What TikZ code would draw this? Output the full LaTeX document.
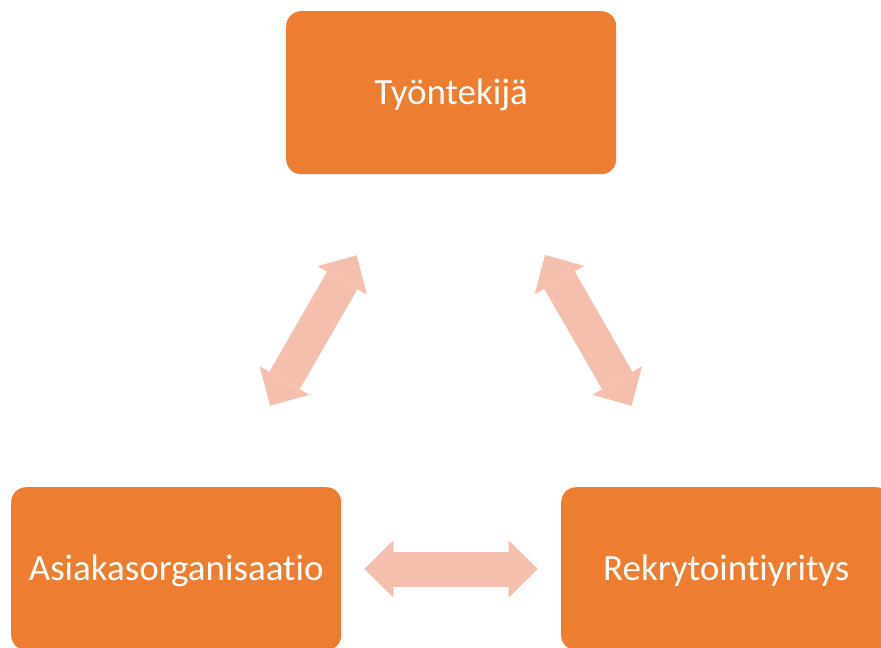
\documentclass[tikz,border=0pt]{standalone}
\usepackage{fontspec}
\setmainfont{Carlito}[Ligatures={NoCommon}]
\usetikzlibrary{arrows.meta}
\definecolor{boxorange}{HTML}{ED7D31}
\definecolor{arrowpink}{HTML}{F4BFAC}
\tikzset{
  box/.style={fill=boxorange, draw=none, rounded corners=15pt, minimum width=330pt,
    minimum height=163pt, inner sep=0pt, text=white, font=\fontsize{37}{40}\selectfont,
    text height=26pt, text depth=2pt, anchor=north west},
  dblarrow/.style={draw=arrowpink, line width=35pt,
    {Triangle[length=29pt,width=57pt,line width=0pt]}-{Triangle[length=29pt,width=57pt,line width=0pt]}}
}
\begin{document}
\begin{tikzpicture}[x=1pt,y=-1pt]
\useasboundingbox (0,0) rectangle (881,648);
\clip (0,0) rectangle (881,648);
\node[box] (worker) at (286,11) {Työntekijä};
\node[box] (client) at (11,487) {Asiakasorganisaatio};
\node[box] (agency) at (561,487) {Rekrytointiyritys};
\coordinate (l1) at (270,405.7);
\coordinate (l2) at (356.7,255.3);
\coordinate (r1) at (545,255);
\coordinate (r2) at (631.7,405.7);
\coordinate (b1) at (364.3,569);
\coordinate (b2) at (537.7,569);
\draw[dblarrow] (l1) -- (l2);
\draw[dblarrow] (r1) -- (r2);
\draw[dblarrow] (b1) -- (b2);
\end{tikzpicture}
\end{document}
